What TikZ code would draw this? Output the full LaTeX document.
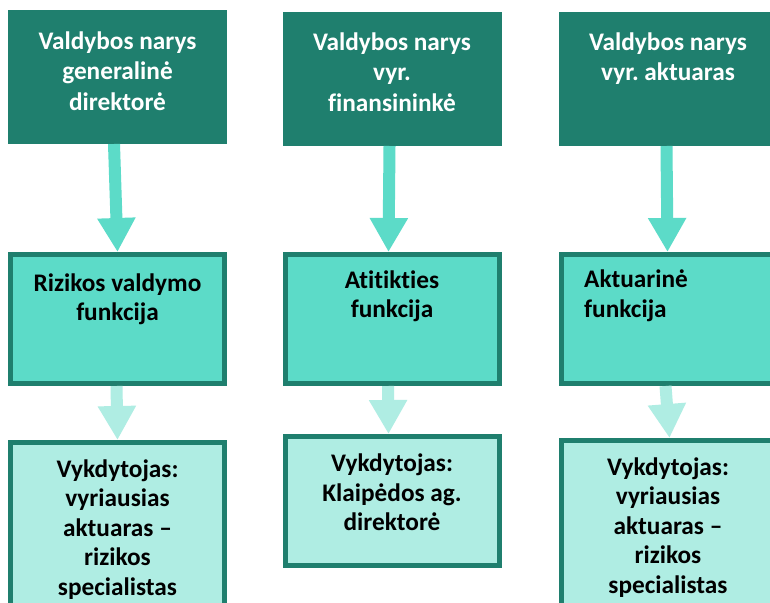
\documentclass[tikz,border=0pt]{standalone}
\usepackage{fontspec}
\setmainfont{Carlito}[Ligatures=NoCommon]
\usetikzlibrary{arrows.meta}
\frenchspacing
\definecolor{tealdark}{HTML}{1F7F6E}
\definecolor{tealmid}{HTML}{5CDBC8}
\definecolor{teallight}{HTML}{AFEDE3}
\tikzset{
  headbox/.style={fill=tealdark, draw=none, minimum width=219pt, minimum height=134pt,
    inner sep=0pt, outer sep=0pt, anchor=north west},
  funcbox/.style={fill=tealmid, draw=tealdark, line width=5pt, minimum width=214pt,
    minimum height=129pt, inner sep=0pt, outer sep=2.5pt, anchor=north west},
  execbox/.style={funcbox, fill=teallight},
  label/.style={inner sep=0pt, font=\bfseries\fontsize{25.3}{29.5}\selectfont,
    align=center, anchor=north},
  headlabel/.style={label, text=white, font=\bfseries\fontsize{25.3}{30.5}\selectfont},
  bodylabel/.style={label, text=black},
  flowdown/.style={draw=tealmid, line width=12pt,
    -{Triangle[width=36pt,length=34pt]}},
  flowdownlight/.style={draw=teallight, line width=12pt,
    -{Triangle[width=36pt,length=34pt]}},
}
\begin{document}
\begin{tikzpicture}[x=1pt, y=-1pt]
  \clip (0,0) rectangle (770,602);
  \fill[white] (0,0) rectangle (770,602);

  % board members
  \node[headbox] (t1) at (8,10) {};
  \node[headbox] (t2) at (283,12) {};
  \node[headbox] (t3) at (559,12) {};
  \node[headlabel] (t1l) at (117.5,31.5) {Valdybos narys\\generalinė\\direktorė};
  \node[headlabel] (t2l) at (392,32.5) {Valdybos narys\\vyr.\\finansininkė};
  \node[headlabel] (t3l) at (668,32.5) {Valdybos narys\\vyr. aktuaras};

  % key functions
  \node[funcbox] (m1) at (8,252) {};
  \node[funcbox] (m2) at (283,252) {};
  \node[funcbox] (m3) at (559,252) {};
  \node[bodylabel] (m1l) at (117.5,273.5) {Rizikos valdymo\\funkcija};
  \node[bodylabel] (m2l) at (392,270.5) {Atitikties\\funkcija};
  \node[bodylabel, anchor=north west, align=left] (m3l) at (584,270) {Aktuarinė\\funkcija};

  % executors
  \node[execbox, minimum height=165pt] (b1) at (8,440) {};
  \node[execbox] (b2) at (283,434) {};
  \node[execbox, minimum height=165pt] (b3) at (559,438) {};
  \node[bodylabel] (b1l) at (117.5,459.5) {Vykdytojas:\\vyriausias\\aktuaras –\\rizikos\\specialistas};
  \node[bodylabel] (b2l) at (392,454) {Vykdytojas:\\Klaipėdos ag.\\direktorė};
  \node[bodylabel] (b3l) at (668,457.5) {Vykdytojas:\\vyriausias\\aktuaras –\\rizikos\\specialistas};

  % arrows
  \draw[flowdown] ([xshift=-3.5pt]t1.south) -- (m1.north);
  \draw[flowdown] ([xshift=-3pt]t2.south) -- ([xshift=-4pt]m2.north);
  \draw[flowdown] ([xshift=-2pt]t3.south) -- ([xshift=-1pt]m3.north);
  \draw[flowdownlight] ([xshift=-1pt]m1.south) -- (b1.north);
  \draw[flowdownlight] ([xshift=-4.5pt]m2.south) -- ([xshift=-4pt]b2.north);
  \draw[flowdownlight] ([xshift=-3pt]m3.south) -- ([xshift=1pt]b3.north);
\end{tikzpicture}
\end{document}
